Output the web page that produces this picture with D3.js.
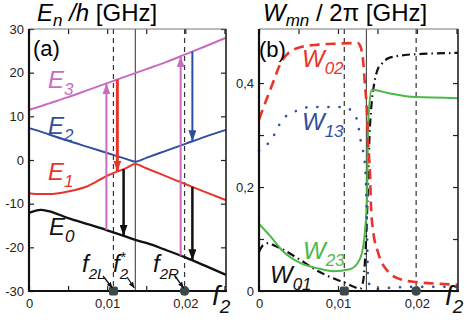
<!DOCTYPE html>
<meta charset="utf-8">
<style>
  body { margin: 0; background: #fff; }
  text { font-family: "Liberation Sans Narrow", "Liberation Sans", Arial, sans-serif; }
  .tick text { font-size: 13px; fill: #222; }
  .tick line { stroke: #222; stroke-width: 1.2; }
</style>
<div id="chart"></div>
<script src="https://d3js.org/d3.v7.min.js"></script>
<script>
// ---- data: panel (a), energy levels E_n/h [GHz] vs f2
const levelF2 = [0, 0.0015, 0.0025, 0.005, 0.0075, 0.01, 0.0125, 0.0136, 0.015, 0.0175, 0.02, 0.0225, 0.0252];
const E0 = [-12.1, -11.4, -11.7, -13.3, -14.7, -16.1, -17.6, -18.3, -19.0, -20.6, -22.3, -24.2, -26.3];
const E1 = [-7.6, -7.8, -7.8, -7.2, -6.0, -3.6, -1.8, -0.9, -1.9, -3.7, -5.5, -7.3, -9.2];
const E2 = [7.3, 6.5, 5.9, 4.4, 3.0, 1.6, 0.2, -0.4, 0.5, 2.1, 3.7, 5.3, 6.9];
const E3 = [11.5, 12.3, 12.9, 14.4, 16.0, 17.6, 19.2, 19.9, 20.8, 22.4, 24.2, 26.0, 28.0];

// transitions drawn as arrows (f2, from level, to level)
const transitions = [
  {f2: 0.0099, from: 0, to: 3, c: "#c86cc2", w: 2},
  {f2: 0.0113, from: 3, to: 1, c: "#e8352b", w: 3},
  {f2: 0.0121, from: 1, to: 0, c: "#111", w: 2.5},
  {f2: 0.0194, from: 0, to: 3, c: "#c86cc2", w: 2},
  {f2: 0.0209, from: 3, to: 2, c: "#2f4f9e", w: 2},
  {f2: 0.0209, from: 1, to: 0, c: "#111", w: 2.5}
];

// special points
const f2L = 0.0108, f2Star = 0.0136, f2R = 0.0199;

// ---- data: panel (b), rates W_mn/2pi [GHz] vs f2  ([f2, value])
const W02 = [[0,0.33],[0.0015,0.39],[0.003,0.445],[0.005,0.468],[0.0075,0.474],[0.01,0.476],[0.0125,0.477],[0.0128,0.472],[0.0132,0.44],[0.0134,0.40],[0.01368,0.34],[0.0138,0.29],[0.01406,0.225],[0.01418,0.165],[0.01444,0.117],[0.0151,0.073],[0.0162,0.04],[0.0182,0.021],[0.02,0.017],[0.0225,0.014],[0.0252,0.012]];
const W13 = [[0,0.27],[0.0015,0.29],[0.003,0.33],[0.005,0.348],[0.0065,0.354],[0.0108,0.354],[0.0118,0.345],[0.0125,0.325],[0.0128,0.295],[0.0131,0.275],[0.0134,0.246],[0.0136,0.18],[0.0137,0.1],[0.0138,0.03],[0.0141,0.008],[0.015,0.004],[0.0165,0.006],[0.02,0.008],[0.0252,0.008]];
const W23 = [[0,0.129],[0.0014,0.106],[0.003,0.077],[0.0052,0.054],[0.0073,0.044],[0.0094,0.038],[0.0115,0.042],[0.0124,0.052],[0.013,0.071],[0.01342,0.115],[0.01368,0.179],[0.0138,0.31],[0.01393,0.35],[0.0143,0.387],[0.0163,0.381],[0.0198,0.373],[0.0252,0.371]];
const W01 = [[0,0.075],[0.0005,0.088],[0.0012,0.092],[0.002,0.087],[0.003,0.08],[0.005,0.062],[0.0075,0.038],[0.009,0.027],[0.011,0.015],[0.012,0.008],[0.0128,0.004],[0.0132,0.02],[0.0135,0.08],[0.0138,0.2],[0.014,0.3],[0.0142,0.35],[0.0146,0.40],[0.015,0.425],[0.0156,0.438],[0.0164,0.448],[0.0185,0.454],[0.0206,0.456],[0.0252,0.458]];

// ticks
const xTicks = [0, 0.005, 0.01, 0.015, 0.02, 0.025];
const xLabels = {0: "0", 0.01: "0,01", 0.02: "0,02"};
const yTicksA = [-30, -20, -10, 0, 10, 20, 30];
const yTicksB = [0, 0.1, 0.2, 0.3, 0.4];
const yLabelsB = {0: "0", 0.2: "0,2", 0.4: "0,4"};

const W = 469, H = 328;
const svg = d3.select("#chart").append("svg").attr("width", W).attr("height", H);

// arrow markers
const defs = svg.append("defs");
function marker(id, color, len, wid) {
  defs.append("marker").attr("id", id)
    .attr("markerUnits", "userSpaceOnUse")
    .attr("markerWidth", len).attr("markerHeight", wid)
    .attr("refX", len).attr("refY", wid / 2).attr("orient", "auto")
    .append("path").attr("d", `M0,0L${len},${wid/2}L0,${wid}Z`).attr("fill", color);
}
transitions.forEach((t, i) => marker("ah" + i, t.c, 11, 8));
marker("small", "#111", 6, 5);

function frame(g, x0, x1, y0, y1) {
  g.append("line").attr("x1", x0).attr("x2", x1).attr("y1", y1).attr("y2", y1).attr("stroke", "#777").attr("stroke-width", 1);
  g.append("line").attr("x1", x1).attr("x2", x1).attr("y1", y0).attr("y2", y1).attr("stroke", "#222").attr("stroke-width", 1.6);
  g.append("line").attr("x1", x0).attr("x2", x0).attr("y1", y0 + 1).attr("y2", y1).attr("stroke", "#111").attr("stroke-width", 2.2);
  g.append("line").attr("x1", x0 - 1).attr("x2", x1 + 1).attr("y1", y0).attr("y2", y0).attr("stroke", "#111").attr("stroke-width", 2.2);
}

function axes(g, x, y, yTicks, yFmt, xr, yr) {
  g.append("g").attr("transform", `translate(0,${yr[0]})`)
    .call(d3.axisBottom(x).tickValues(xTicks).tickSize(-5).tickSizeOuter(0).tickPadding(8)
      .tickFormat(d => xLabels[d] || ""))
    .call(a => a.select(".domain").remove());
  g.append("g").attr("transform", `translate(0,${yr[1]})`)
    .call(d3.axisTop(x).tickValues(xTicks).tickSize(-5).tickSizeOuter(0).tickFormat(""))
    .call(a => a.select(".domain").remove());
  g.append("g").attr("transform", `translate(${xr[0]},0)`)
    .call(d3.axisLeft(y).tickValues(yTicks).tickSize(-5).tickSizeOuter(0).tickPadding(5).tickFormat(yFmt))
    .call(a => a.select(".domain").remove());
  g.append("g").attr("transform", `translate(${xr[1]},0)`)
    .call(d3.axisRight(y).tickValues(yTicks).tickSize(-5).tickSizeOuter(0).tickFormat(""))
    .call(a => a.select(".domain").remove());
}

// text with subscript
function label(g, x, y, main, sub, color, size, subSize, italic, sup) {
  const t = g.append("text").attr("x", x).attr("y", y).attr("fill", color)
    .style("font-size", size + "px").style("font-style", italic ? "italic" : "normal");
  t.append("tspan").text(main);
  if (sub) t.append("tspan").attr("dy", size * 0.3).style("font-size", subSize + "px").text(sub);
  if (sup) t.append("tspan").attr("dx", -subSize * 0.55).attr("dy", -size * 0.72).style("font-size", subSize + "px").text(sup);
  return t;
}

function vlines(g, x, yr) {
  [f2L, f2R].forEach(v => g.append("line").attr("x1", x(v)).attr("x2", x(v))
    .attr("y1", yr[1]).attr("y2", yr[0]).attr("stroke", "#333").attr("stroke-width", 1.2)
    .attr("stroke-dasharray", "5,4"));
  g.append("line").attr("x1", x(f2Star)).attr("x2", x(f2Star))
    .attr("y1", yr[1]).attr("y2", yr[0]).attr("stroke", "#444").attr("stroke-width", 1.1);
}

function dots(g, x, yr) {
  g.append("rect").attr("x", x(f2L) - 4.5).attr("y", yr[0] - 4.5).attr("width", 9).attr("height", 9)
    .attr("rx", 2).attr("fill", "#3b4949");
  g.append("circle").attr("cx", x(f2R)).attr("cy", yr[0]).attr("r", 4.8).attr("fill", "#3b4949");
}

// ================= panel (a)
const xrA = [29, 226], yrA = [291, 29];
const xA = d3.scaleLinear().domain([0, 0.0252]).range(xrA);
const yA = d3.scaleLinear().domain([-30, 30]).range(yrA);
const gA = svg.append("g");

vlines(gA, xA, yrA);

const levels = [
  {v: E0, c: "#111", w: 2.3},
  {v: E1, c: "#e8352b", w: 2},
  {v: E2, c: "#2f4f9e", w: 2},
  {v: E3, c: "#c86cc2", w: 2}
];
const lineA = d3.line().curve(d3.curveMonotoneX);
levels.forEach(l => {
  gA.append("path").attr("d", lineA(levelF2.map((f, i) => [xA(f), yA(l.v[i])])))
    .attr("fill", "none").attr("stroke", l.c).attr("stroke-width", l.w);
});

// level value at a given f2 (piecewise linear through the level data)
const levelAt = levels.map(l => d3.scaleLinear().domain(levelF2).range(l.v));
transitions.forEach((t, i) => {
  gA.append("line").attr("x1", xA(t.f2)).attr("x2", xA(t.f2))
    .attr("y1", yA(levelAt[t.from](t.f2))).attr("y2", yA(levelAt[t.to](t.f2)))
    .attr("stroke", t.c).attr("stroke-width", t.w).attr("marker-end", `url(#ah${i})`);
});

axes(gA, xA, yA, yTicksA, d => d, xrA, yrA);
frame(gA, xrA[0], xrA[1], yrA[0], yrA[1]);
dots(gA, xA, yrA);

label(gA, 48, 88, "E", "3", "#c86cc2", 24, 17, true);
label(gA, 48, 134, "E", "2", "#2f4f9e", 24, 17, true);
label(gA, 48, 180, "E", "1", "#e8352b", 24, 17, true);
label(gA, 49, 235, "E", "0", "#111", 24, 17, true);
gA.append("text").attr("x", 33).attr("y", 56).style("font-size", "22px").text("(a)");

// f2 labels and pointers
label(gA, 82, 272, "f", "2L", "#111", 24, 15, true);
label(gA, 113, 272, "f", "2", "#111", 24, 15, true, "*");
label(gA, 153, 272, "f", "2R", "#111", 24, 15, true);
[[103, 276, f2L], [127, 277, f2Star], [175, 276, f2R]].forEach(p => {
  gA.append("line").attr("x1", p[0]).attr("y1", p[1]).attr("x2", xA(p[2]) - 1).attr("y2", yrA[0] - 3)
    .attr("stroke", "#111").attr("stroke-width", 1.3).attr("marker-end", "url(#small)");
});
label(gA, 212, 305, "f", "2", "#111", 28, 19, true);

// title
const tA = gA.append("text").attr("x", 37).attr("y", 21).style("font-size", "24px");
tA.append("tspan").style("font-style", "italic").text("E");
tA.append("tspan").style("font-style", "italic").style("font-size", "17px").attr("dy", 5).text("n");
tA.append("tspan").style("font-style", "italic").attr("dy", -5).text(" /h");
tA.append("tspan").text(" [GHz]");

// ================= panel (b)
const xrB = [259, 458], yrB = [291, 29];
const xB = d3.scaleLinear().domain([0, 0.0252]).range(xrB);
const yB = d3.scaleLinear().domain([0, 0.504]).range(yrB);
const gB = svg.append("g");

vlines(gB, xB, yrB);

const lineB = d3.line().x(d => xB(d[0])).y(d => yB(d[1])).curve(d3.curveMonotoneX);
gB.append("path").attr("d", lineB(W01)).attr("fill", "none").attr("stroke", "#111")
  .attr("stroke-width", 2.2).attr("stroke-dasharray", "8,4,1.5,4");
gB.append("path").attr("d", lineB(W23)).attr("fill", "none").attr("stroke", "#4db848").attr("stroke-width", 2);
gB.append("path").attr("d", lineB(W13)).attr("fill", "none").attr("stroke", "#2f4f9e")
  .attr("stroke-width", 2.6).attr("stroke-linecap", "round").attr("stroke-dasharray", "0.1,11");
gB.append("path").attr("d", lineB(W02)).attr("fill", "none").attr("stroke", "#e8352b")
  .attr("stroke-width", 2.6).attr("stroke-dasharray", "10,6");

axes(gB, xB, yB, yTicksB, d => yLabelsB[d] !== undefined ? yLabelsB[d] : "", xrB, yrB);
frame(gB, xrB[0], xrB[1], yrB[0], yrB[1]);
dots(gB, xB, yrB);

label(gB, 302, 67, "W", "02", "#e8352b", 24, 17, true);
label(gB, 302, 130, "W", "13", "#2f4f9e", 24, 17, true);
label(gB, 303, 259, "W", "23", "#4db848", 24, 17, true);
label(gB, 270, 283, "W", "01", "#111", 24, 17, true);
gB.append("text").attr("x", 259).attr("y", 57).style("font-size", "22px").text("(b)");
label(gB, 445, 305, "f", "2", "#111", 28, 19, true);

const tB = gB.append("text").attr("x", 263).attr("y", 21).style("font-size", "24px");
tB.append("tspan").style("font-style", "italic").text("W");
tB.append("tspan").style("font-style", "italic").style("font-size", "17px").attr("dy", 5).text("mn");
tB.append("tspan").attr("dy", -5).text(" / 2\u03c0 [GHz]");
</script>
